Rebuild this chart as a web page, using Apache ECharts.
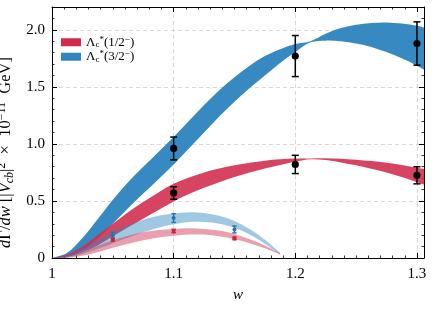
<!DOCTYPE html>
<html><head><meta charset="utf-8">
<script src="https://cdn.jsdelivr.net/npm/echarts@6/dist/echarts.min.js"></script>
<style>html,body{margin:0;padding:0;background:#fff}#c{width:436px;height:312px}</style>
</head><body><div id="c"></div>
<script>
// ---- band data (w grid, lower edge, upper edge) ----
const wDark = [1.0,1.0125,1.025,1.0375,1.05,1.0625,1.075,1.0875,1.1,1.1125,1.125,1.1375,1.15,1.1625,1.175,1.1875,1.2,1.2125,1.225,1.2375,1.25,1.2625,1.275,1.2875,1.3,1.3058];
const blueLo = [0,0.01,0.065,0.17,0.30,0.435,0.565,0.69,0.82,0.96,1.10,1.24,1.37,1.49,1.60,1.71,1.805,1.89,1.905,1.90,1.88,1.85,1.805,1.75,1.685,1.65];
const blueHi = [0,0.045,0.175,0.34,0.51,0.665,0.80,0.93,1.06,1.20,1.34,1.47,1.585,1.685,1.77,1.83,1.875,1.90,1.965,2.015,2.045,2.06,2.065,2.055,2.035,2.02];
const redLo  = [0,0.01,0.05,0.11,0.19,0.27,0.345,0.42,0.495,0.56,0.615,0.665,0.71,0.75,0.785,0.815,0.845,0.866,0.858,0.838,0.812,0.782,0.75,0.71,0.665,0.645];
const redHi  = [0,0.03,0.10,0.20,0.30,0.40,0.49,0.575,0.65,0.705,0.75,0.785,0.812,0.835,0.853,0.865,0.872,0.872,0.874,0.87,0.862,0.85,0.835,0.815,0.79,0.78];
const wLight = [1.0,1.0125,1.025,1.0375,1.05,1.0625,1.075,1.0875,1.1,1.1125,1.125,1.1375,1.15,1.1625,1.175,1.1875];
const lblueLo = [0,0.005,0.035,0.08,0.13,0.18,0.225,0.265,0.295,0.315,0.315,0.30,0.265,0.205,0.125,0.03];
const lblueHi = [0,0.02,0.08,0.155,0.23,0.29,0.335,0.37,0.39,0.40,0.395,0.37,0.325,0.255,0.16,0.045];
const lredLo  = [0,0.003,0.02,0.05,0.09,0.125,0.155,0.18,0.195,0.205,0.205,0.19,0.165,0.13,0.085,0.03];
const lredHi  = [0,0.012,0.05,0.105,0.155,0.195,0.225,0.245,0.255,0.26,0.255,0.24,0.21,0.165,0.11,0.04];
// ---- points with errors ----
const bigX = [1.1,1.2,1.3];
const black32 = [0.96,1.77,1.88];
const black32Err = [0.10,0.18,0.19];
const black12 = [0.57,0.82,0.725];
const black12Err = [0.055,0.08,0.075];
const smallX = [1.05,1.1,1.15];
const smallBlue = [0.20,0.35,0.25];
const smallBlueErr = [0.025,0.038,0.03];
const smallRed = [0.16,0.237,0.172];
const smallRedErr = [0.012,0.015,0.012];
// ---- ticks ----
const xTicks = [1.0,1.1,1.2,1.3];
const yTicks = [0,0.5,1.0,1.5,2.0];
const legendNames = ['Λc*(1/2−)','Λc*(3/2−)'];

const BLUE = '#2f86bf', RED = '#d12a4b';
const FONT = 'Liberation Serif';

// Catmull-Rom through pixel points -> cubic bezier path commands
function crPath(pts, start) {
  let d = start ? ('M' + pts[0][0] + ' ' + pts[0][1]) : ('L' + pts[0][0] + ' ' + pts[0][1]);
  for (let i = 0; i < pts.length - 1; i++) {
    const p0 = pts[Math.max(i - 1, 0)], p1 = pts[i], p2 = pts[i + 1], p3 = pts[Math.min(i + 2, pts.length - 1)];
    const c1 = [p1[0] + (p2[0] - p0[0]) / 6, p1[1] + (p2[1] - p0[1]) / 6];
    const c2 = [p2[0] - (p3[0] - p1[0]) / 6, p2[1] - (p3[1] - p1[1]) / 6];
    d += ' C' + c1[0] + ' ' + c1[1] + ' ' + c2[0] + ' ' + c2[1] + ' ' + p2[0] + ' ' + p2[1];
  }
  return d;
}
function band(name, xs, lo, hi, color, opacity, z) {
  return {
    type: 'custom', name: name, data: [0], z: z, silent: true,
    itemStyle: {color: color},
    renderItem: function (params, api) {
      const up = xs.map((x, i) => api.coord([x, hi[i]]));
      const dn = xs.map((x, i) => api.coord([x, lo[i]])).reverse();
      const d = crPath(up, true) + ' ' + crPath(dn, false) + ' Z';
      return {type: 'path', shape: {pathData: d},
        style: {fill: color, opacity: opacity, stroke: null}};
    }
  };
}
function errs(xs, ys, es, color, cap, lw, msize, z) {
  const data = xs.map((x, i) => [x, ys[i], es[i]]);
  return {
    type: 'custom', data: data, z: z, silent: true,
    renderItem: function (params, api) {
      const x = api.value(0), y = api.value(1), e = api.value(2);
      const top = api.coord([x, y + e]), bot = api.coord([x, y - e]), c = api.coord([x, y]);
      const st = {stroke: color, lineWidth: lw};
      return {type: 'group', children: [
        {type: 'line', shape: {x1: top[0], y1: top[1], x2: bot[0], y2: bot[1]}, style: st},
        {type: 'line', shape: {x1: top[0]-cap, y1: top[1], x2: top[0]+cap, y2: top[1]}, style: st},
        {type: 'line', shape: {x1: bot[0]-cap, y1: bot[1], x2: bot[0]+cap, y2: bot[1]}, style: st},
        {type: 'circle', shape: {cx: c[0], cy: c[1], r: msize}, style: {fill: color}}
      ]};
    }
  };
}

const chart = echarts.init(document.getElementById('c'), null, {renderer: 'canvas'});
const tickStyle = {show: true, inside: true, length: 5, lineStyle: {color: '#000', width: 1}};
const minorStyle = {show: true, length: 2.5, lineStyle: {color: '#000', width: 0.8}};
const xMin = 1.0, xMax = 1.3058;
const baseX = {
  type: 'value', min: xMin, max: xMax, interval: 0.1,
  axisLine: {show: true, onZero: false, lineStyle: {color: '#000', width: 1}},
  axisTick: tickStyle, minorTick: Object.assign({splitNumber: 10}, minorStyle)
};
const baseY = {
  type: 'value', min: 0, max: 2.2, interval: 0.5,
  axisLine: {show: true, onZero: false, lineStyle: {color: '#000', width: 1}},
  axisTick: tickStyle, minorTick: Object.assign({splitNumber: 5}, minorStyle)
};
const option = {
  animation: false,
  backgroundColor: '#fff',
  grid: {left: 52, right: 12, top: 7, bottom: 54, containLabel: false, outerBoundsMode: 'none'},
  legend: {
    left: 56, top: 30, orient: 'vertical', itemWidth: 20, itemHeight: 8, itemGap: 0,
    icon: 'rect', data: legendNames, selectedMode: false,
    formatter: function (n) {
      return n === legendNames[0] ? 'Λ{sb|c}{sp|*}(1/2{sp|−})' : 'Λ{sb|c}{sp|*}(3/2{sp|−})';
    },
    textStyle: {fontFamily: FONT, fontSize: 13, color: '#000', lineHeight: 14.5,
      rich: {sb: {fontSize: 9, fontFamily: FONT, verticalAlign: 'bottom', lineHeight: 14.5},
             sp: {fontSize: 9, fontFamily: FONT, verticalAlign: 'top', lineHeight: 14.5}}}
  },
  xAxis: [
    Object.assign({}, baseX, {
      position: 'bottom',
      name: 'w', nameLocation: 'middle', nameGap: 30,
      nameTextStyle: {fontFamily: FONT, fontSize: 15, fontStyle: 'italic', color: '#000'},
      axisLabel: {show: true, margin: 9, color: '#000', fontFamily: FONT, fontSize: 15, showMaxLabel: false,
        formatter: v => (xTicks.some(t => Math.abs(t - v) < 1e-9) ? (Math.abs(v - 1) < 1e-9 ? '1' : v.toFixed(1)) : '')},
      splitLine: {show: true, lineStyle: {color: '#cfcfcf', type: [4, 3], width: 0.8}}
    }),
    Object.assign({}, baseX, {position: 'top', axisLabel: {show: false}, splitLine: {show: false}})
  ],
  yAxis: [
    Object.assign({}, baseY, {
      position: 'left',
      name: '{i|d}Γ/{i|dw} [|{i|V}{sb|cb}|{sp|2}  ×  10{sp|−11}  GeV]',
      nameLocation: 'middle', nameRotate: 90, nameGap: 36,
      nameTextStyle: {fontFamily: FONT, fontSize: 16.5, color: '#000', lineHeight: 20, padding: [0, 40, 0, 0],
        rich: {i: {fontStyle: 'italic', fontFamily: FONT, fontSize: 16.5},
               sb: {fontStyle: 'italic', fontFamily: FONT, fontSize: 12, verticalAlign: 'bottom', lineHeight: 20},
               sp: {fontFamily: FONT, fontSize: 12, verticalAlign: 'top', lineHeight: 20}}},
      axisLabel: {show: true, margin: 7, color: '#000', fontFamily: FONT, fontSize: 15, showMaxLabel: false,
        formatter: v => (yTicks.some(t => Math.abs(t - v) < 1e-9) ? (v === 0 ? '0' : v.toFixed(1)) : '')},
      splitLine: {show: true, lineStyle: {color: '#cfcfcf', type: [4, 3], width: 0.8}}
    }),
    Object.assign({}, baseY, {position: 'right', axisLabel: {show: false}, splitLine: {show: false}})
  ],
  series: [
    band(legendNames[1], wDark, blueLo, blueHi, BLUE, 0.97, 2),
    band(legendNames[0], wDark, redLo, redHi, RED, 0.88, 3),
    band('lb', wLight, lblueLo, lblueHi, BLUE, 0.45, 4),
    band('lr', wLight, lredLo, lredHi, RED, 0.45, 5),
    errs(bigX, black32, black32Err, '#000', 3.5, 1.5, 3.6, 10),
    errs(bigX, black12, black12Err, '#000', 3.5, 1.5, 3.6, 10),
    errs(smallX, smallBlue, smallBlueErr, '#1f74b5', 2.2, 1.4, 2.0, 11),
    errs(smallX, smallRed, smallRedErr, '#d0203f', 2.2, 1.4, 2.0, 11)
  ]
};
chart.setOption(option);
</script></body></html>
